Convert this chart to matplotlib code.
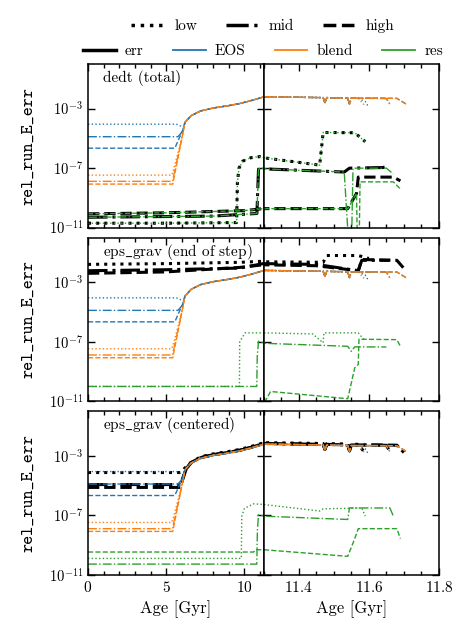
import numpy as np
import matplotlib
matplotlib.use("Agg")
import matplotlib.pyplot as plt
import matplotlib.ticker as mticker
from matplotlib.lines import Line2D

plt.rcParams.update({
    "font.family": "serif",
    "font.serif": ["cmr10"],
    "mathtext.fontset": "cm",
    "axes.formatter.use_mathtext": True,
    "font.size": 11,
    "xtick.labelsize": 11,
    "ytick.labelsize": 10.5,
    "xtick.direction": "in",
    "ytick.direction": "in",
    "xtick.top": True,
    "ytick.right": True,
    "xtick.major.size": 5,
    "ytick.major.size": 5,
    "xtick.minor.size": 3,
    "axes.linewidth": 1.1,
})

##################################### EOS / blend (same in every panel)
# shared rising part after ~6 Gyr
tail_age = [6.2, 6.6, 7.2, 8.0, 9.0, 9.7, 10.4, 11.2, 11.3, 11.4, 11.47, 11.475, 11.48, 11.5, 11.54, 11.545, 11.55]
tail_val = [1.2e-4, 3.4e-4, 7e-4, 1.1e-3, 1.6e-3, 2.2e-3, 3.4e-3, 6.0e-3, 6.3e-3, 5.8e-3, 5.5e-3, 2.5e-3, 5.5e-3, 5.3e-3, 5.1e-3, 2e-3, 5e-3]

eos_low_age = [0, 5.65, 6.1] + tail_age + [11.57, 11.59, 11.6]
eos_low = [9e-5, 9e-5, 5.6e-5] + tail_val + [4.9e-3, 3e-3, 1.2e-3]
eos_mid_age = [0, 5.75, 6.05] + tail_age + [11.62, 11.65, 11.66]
eos_mid = [1.3e-5, 1.3e-5, 3e-5] + tail_val + [4.9e-3, 4.8e-3, 2e-3]
eos_high_age = [0, 5.55, 6.05] + tail_age + [11.62, 11.68, 11.71]
eos_high = [2.2e-6, 2.2e-6, 3.4e-5] + tail_val + [5e-3, 4.9e-3, 1.8e-3]

blend_low_age = [0, 5.35, 5.46, 6.0] + tail_age + [11.57, 11.59]
blend_low = [3.4e-8, 3.4e-8, 7.4e-8, 1e-5] + tail_val + [4.9e-3, 1.5e-3]
blend_mid_age = [0, 5.4, 5.5, 6.0] + tail_age + [11.62, 11.65, 11.66]
blend_mid = [1.3e-8, 1.3e-8, 4e-8, 1e-5] + tail_val + [4.9e-3, 4.8e-3, 2e-3]
blend_high_age = [0, 5.42, 5.52, 6.0] + tail_age + [11.62, 11.68, 11.71]
blend_high = [8.5e-9, 8.5e-9, 3e-8, 1e-5] + tail_val + [5e-3, 4.9e-3, 1.8e-3]

##################################### panel 1: dedt (total)
res1_low_age = [0, 5, 9.5, 9.55, 9.65, 9.9, 10.4, 11.0, 11.3, 11.46, 11.47, 11.56, 11.59]
res1_low = [2e-11, 2e-11, 2.2e-11, 1e-8, 1e-7, 3e-7, 5e-7, 6e-7, 5e-7, 1.6e-7, 2.5e-5, 2.4e-5, 6e-6]
res1_mid_age = [0, 8, 10.8, 10.85, 10.9, 11.0, 11.3, 11.53, 11.545, 11.55, 11.555, 11.65, 11.67]
res1_mid = [5e-11, 6e-11, 9e-11, 3e-9, 8e-8, 1.1e-7, 9e-8, 5.5e-8, 1e-13, 1e-13, 1e-7, 1e-7, 4e-8]
res1_high_age = [0, 5, 10, 11.2, 11.54, 11.565, 11.568, 11.572, 11.575, 11.67, 11.69]
res1_high = [8.5e-11, 1e-10, 1.4e-10, 1.9e-10, 1.9e-10, 2e-9, 1e-13, 1e-13, 1.2e-8, 1.2e-8, 4e-9]

err1_low_age = res1_low_age
err1_low = res1_low
err1_mid_age = [0, 8, 10.8, 10.85, 10.9, 11.0, 11.3, 11.53, 11.545, 11.64, 11.65]
err1_mid = [5e-11, 6e-11, 9e-11, 3e-9, 8e-8, 1.1e-7, 9e-8, 5.5e-8, 1e-7, 1.1e-7, 1.3e-7]
err1_high_age = [0, 5, 10, 11.2, 11.54, 11.565, 11.57, 11.67, 11.69]
err1_high = [8.5e-11, 1e-10, 1.4e-10, 1.9e-10, 1.9e-10, 2e-9, 2.5e-8, 2.5e-8, 1.4e-8]

##################################### panel 2: eps_grav (end of step)
res2_low_age = [0, 9.68, 9.7, 10.04, 11.3, 11.44, 11.47, 11.472, 11.57, 11.59]
res2_low = [1e-10, 1e-10, 1e-7, 4e-7, 4e-7, 3.4e-7, 8.6e-8, 4e-7, 4e-7, 1.1e-7]
res2_mid_age = [0, 10.79, 10.82, 10.9, 11.3, 11.54, 11.55, 11.56, 11.65]
res2_mid = [1e-10, 1e-10, 1e-8, 1.1e-7, 8e-8, 5e-8, 2.3e-8, 4.6e-8, 4.5e-8]
res2_high_age = [0, 11.28, 11.305, 11.32, 11.54, 11.56, 11.57, 11.572, 11.68, 11.69]
res2_high = [1e-13, 1e-13, 1e-11, 4.6e-11, 1.5e-11, 1.8e-9, 3e-9, 1.5e-7, 1.4e-7, 5e-8]

err2_low_age = [0, 5, 9.7, 11.2, 11.3, 11.47, 11.48, 11.57, 11.6]
err2_low = [1.6e-2, 1.8e-2, 2.2e-2, 2.6e-2, 2.4e-2, 2.2e-2, 6.3e-2, 6.3e-2, 4e-2]
err2_mid_age = [0, 5, 9.7, 11.2, 11.3, 11.45, 11.57, 11.58, 11.66]
err2_mid = [6e-3, 7e-3, 9e-3, 1.8e-2, 1.8e-2, 1.6e-2, 6e-3, 3e-2, 3e-2]
err2_high_age = [0, 5, 9.7, 11.2, 11.3, 11.45, 11.57, 11.58, 11.68, 11.7]
err2_high = [4e-3, 5e-3, 1e-2, 1.5e-2, 1.5e-2, 1.3e-2, 6e-3, 3.4e-2, 3e-2, 8.6e-3]

##################################### panel 3: eps_grav (centered)
res3_low_age = [0, 9.8, 9.83, 10.0, 10.58, 11.3, 11.46, 11.47, 11.58, 11.59]
res3_low = [1.3e-10, 1.3e-10, 9e-8, 3e-7, 6e-7, 5.5e-7, 2e-7, 2.8e-7, 3.2e-7, 9e-8]
res3_mid_age = [0, 10.79, 10.83, 10.9, 11.3, 11.54, 11.545, 11.66, 11.67]
res3_mid = [5.4e-11, 5.4e-11, 1e-8, 1.1e-7, 9e-8, 5.4e-8, 3.2e-7, 3.2e-7, 9e-8]
res3_high_age = [0, 10.6, 10.7, 11.3, 11.54, 11.56, 11.57, 11.68, 11.69]
res3_high = [3.5e-10, 3.5e-10, 5e-10, 5e-10, 1.8e-10, 2.8e-9, 1.3e-8, 1.3e-8, 2.8e-9]

err3_low_age = [0, 5.9, 6.5] + tail_age[2:] + [11.57, 11.59]
err3_low = [7.7e-5, 7.7e-5, 3.2e-4] + [v * 1.25 for v in tail_val[2:]] + [6e-3, 1.5e-3]
err3_mid_age = [0, 5.9, 6.3] + tail_age[1:] + [11.62, 11.65, 11.66]
err3_mid = [1.2e-5, 1.2e-5, 1.5e-4] + [v * 1.1 for v in tail_val[1:]] + [5.4e-3, 5.2e-3, 2e-3]
err3_high_age = [0, 5.9, 6.25] + tail_age[1:] + [11.62, 11.68, 11.7]
err3_high = [7.7e-6, 7.7e-6, 1.2e-4] + [v * 1.1 for v in tail_val[1:]] + [5.5e-3, 5.3e-3, 1.7e-3]

titles = ["dedt (total)", r"eps$\_$grav (end of step)", r"eps$\_$grav (centered)"]
styles = {"low": ":", "mid": "-.", "high": "--"}

panels = [
    dict(err=[(err1_low_age, err1_low), (err1_mid_age, err1_mid), (err1_high_age, err1_high)],
         res=[(res1_low_age, res1_low), (res1_mid_age, res1_mid), (res1_high_age, res1_high)]),
    dict(err=[(err2_low_age, err2_low), (err2_mid_age, err2_mid), (err2_high_age, err2_high)],
         res=[(res2_low_age, res2_low), (res2_mid_age, res2_mid), (res2_high_age, res2_high)]),
    dict(err=[(err3_low_age, err3_low), (err3_mid_age, err3_mid), (err3_high_age, err3_high)],
         res=[(res3_low_age, res3_low), (res3_mid_age, res3_mid), (res3_high_age, res3_high)]),
]
eos = [(eos_low_age, eos_low), (eos_mid_age, eos_mid), (eos_high_age, eos_high)]
blend = [(blend_low_age, blend_low), (blend_mid_age, blend_mid), (blend_high_age, blend_high)]

fig, axes = plt.subplots(3, 2, figsize=(4.69, 6.38), dpi=100, sharey=True)
fig.subplots_adjust(left=88/469, right=439/469, top=1-64/638, bottom=1-575/638, hspace=0.061, wspace=0)

lss = list(styles.values())
for i, p in enumerate(panels):
    for j, ax in enumerate(axes[i]):
        for k, ls in enumerate(lss):
            ax.plot(*p["err"][k], color="k", ls=ls, lw=2.2)
        for k, ls in enumerate(lss):
            ax.plot(*eos[k], color="C0", ls=ls, lw=1.0)
            ax.plot(*blend[k], color="C1", ls=ls, lw=1.0)
            ax.plot(*p["res"][k], color="C2", ls=ls, lw=1.0)
        ax.set_yscale("log")
        ax.set_ylim(1e-11, 1)
        ax.yaxis.set_major_locator(mticker.FixedLocator([1e-11, 1e-7, 1e-3]))
        ax.yaxis.set_minor_locator(mticker.NullLocator())
        if j == 0:
            ax.set_xlim(0, 11.22)
            ax.xaxis.set_major_locator(mticker.MultipleLocator(5))
            ax.xaxis.set_minor_locator(mticker.MultipleLocator(1))
            ax.set_ylabel("rel_run_E_err", family="cmtt10", fontsize=12.5, labelpad=9)
        else:
            ax.set_xlim(11.3, 11.8)
            ax.xaxis.set_major_locator(mticker.MultipleLocator(0.2))
            ax.xaxis.set_minor_locator(mticker.MultipleLocator(0.05))
            ax.tick_params(labelleft=False)
        if i < 2:
            ax.tick_params(labelbottom=False)
        else:
            ax.set_xlabel("Age [Gyr]", fontsize=12)
        ax.tick_params(which="both", width=1.0)
    axes[i][0].text(0.085, 0.915, titles[i], transform=axes[i][0].transAxes, va="center", fontsize=11)

h1 = [Line2D([], [], color="k", ls=ls, lw=2.5) for ls in lss]
fig.legend(h1, list(styles.keys()), loc="center", bbox_to_anchor=(263/469, 1-26/638), ncol=3,
           frameon=False, columnspacing=1.9, handlelength=2.0, handletextpad=0.8, fontsize=11)
h2 = [Line2D([], [], color="k", lw=2.5)] + [Line2D([], [], color=c, lw=1.3) for c in ["C0", "C1", "C2"]]
fig.legend(h2, ["err", "EOS", "blend", "res"], loc="center", bbox_to_anchor=(263/469, 1-51/638), ncol=4,
           frameon=False, columnspacing=1.9, handlelength=2.15, handletextpad=0.6, fontsize=11)

plt.savefig("out.png", dpi=100)
